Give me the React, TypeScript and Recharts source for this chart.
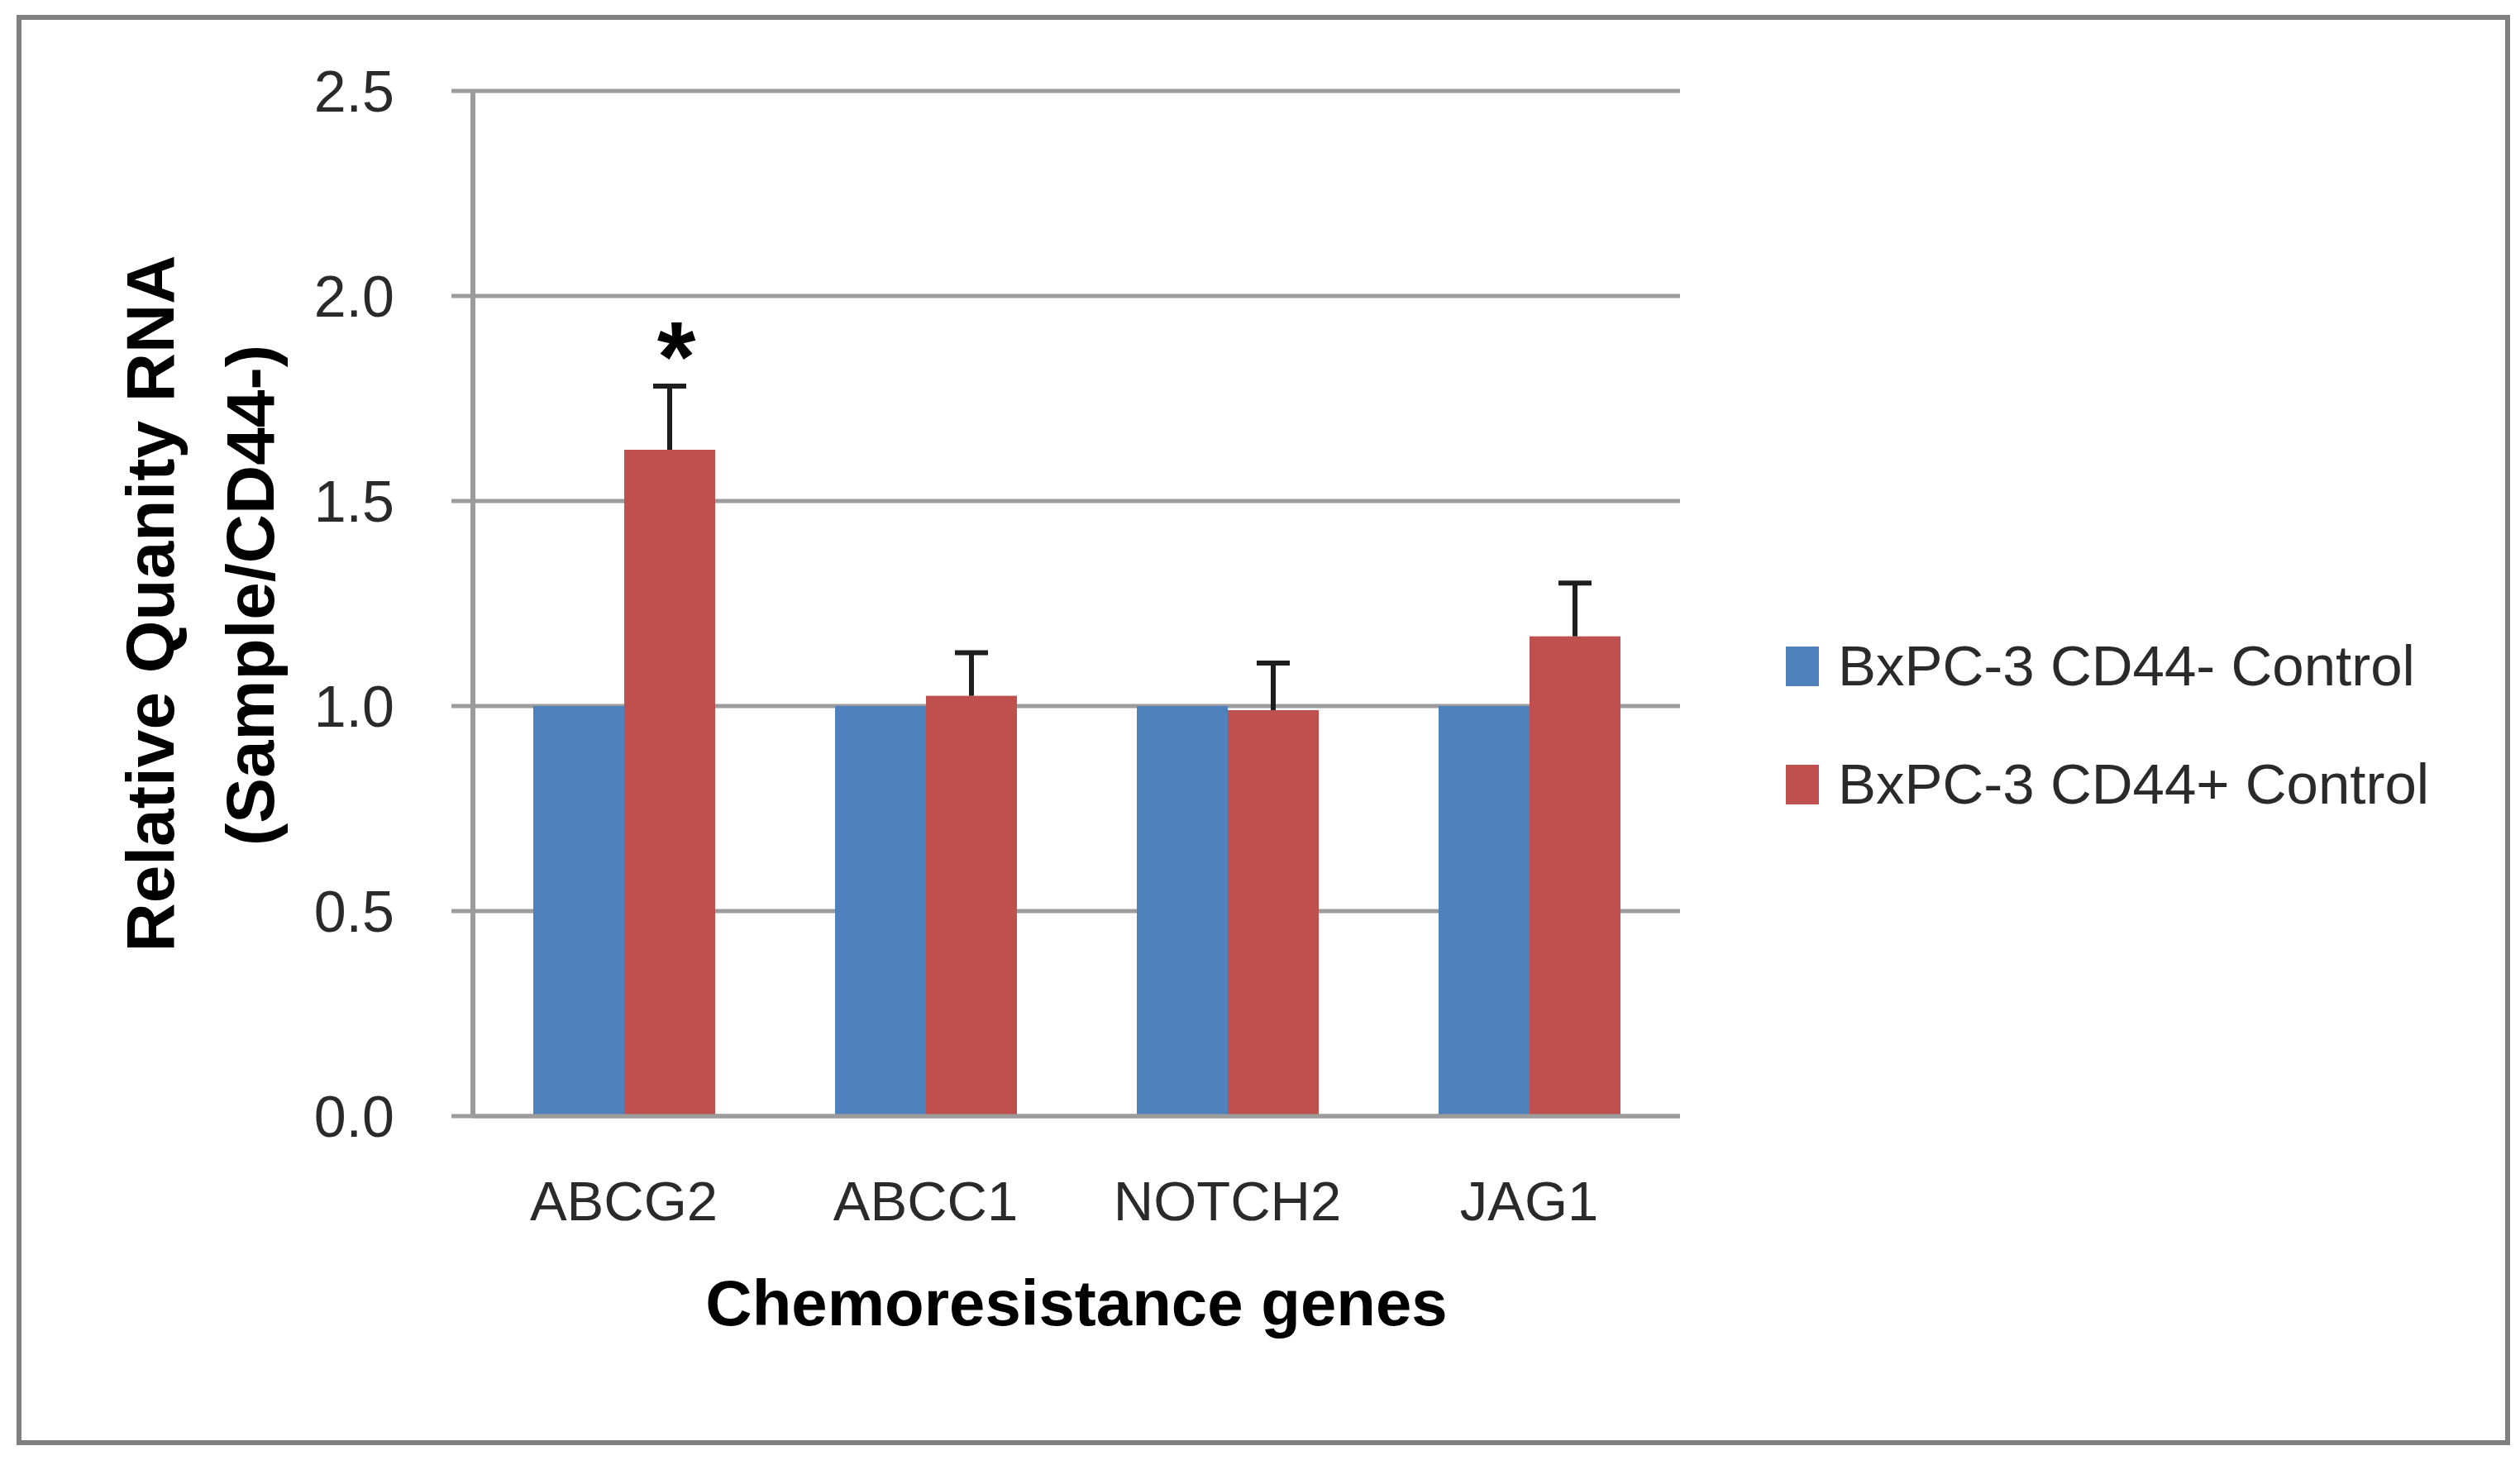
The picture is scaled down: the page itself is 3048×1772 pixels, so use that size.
import { BarChart, Bar, XAxis, YAxis, CartesianGrid, Legend, Label } from 'recharts';

const genes = ['ABCG2', 'ABCC1', 'NOTCH2', 'JAG1'];
const cd44Neg = [1.0, 1.0, 1.0, 1.0];
const cd44Pos = [1.625, 1.025, 0.99, 1.17];
const cd44PosErr = [0.155, 0.105, 0.115, 0.13];
const significance = ['*', '', '', ''];
const yTicks = [0, 0.5, 1.0, 1.5, 2.0, 2.5];

const data = genes.map((g, i) => ({
    gene: g,
    neg: cd44Neg[i],
    pos: cd44Pos[i],
    err: cd44PosErr[i],
    sig: significance[i],
}));

const FONT = '"Liberation Sans", Arial, sans-serif';
const GRID = '#9c9c9c';
const BLUE = '#4F81BD';
const RED = '#C0504D';

// red bar with its upper error bar (and the asterisk) drawn from the bar's own scale
function PosBar(props: any) {
    const { x, y, width, height, fill, payload } = props;
    const perUnit = payload.pos ? height / payload.pos : 0;
    const top = y - payload.err * perUnit;
    const cx = x + width / 2;
    return (
        <g>
            <rect x={x} y={y} width={width} height={height} fill={fill} />
            <line x1={cx} x2={cx} y1={y} y2={top} stroke="#1e1e1e" strokeWidth={6} />
            <line x1={cx - 20} x2={cx + 20} y1={top} y2={top} stroke="#1e1e1e" strokeWidth={6} />
            {payload.sig ? (
                <text x={cx + 8} y={top + 6} textAnchor="middle" fontFamily={FONT} fontWeight="bold" fontSize={120} fill="#000">
                    {payload.sig}
                </text>
            ) : null}
        </g>
    );
}

function YTitle(props: any) {
    const { viewBox } = props;
    const cy = viewBox.y + viewBox.height / 2;
    const x1 = viewBox.x + 29;
    const x2 = viewBox.x + 150;
    return (
        <g fontFamily={FONT} fontWeight="bold" fontSize={82} fill="#000">
            <text x={x1} y={cy} textAnchor="middle" dominantBaseline="central" transform={`rotate(-90 ${x1} ${cy})`}>
                Relative Quanity RNA
            </text>
            <text x={x2} y={cy - 10} textAnchor="middle" dominantBaseline="central" transform={`rotate(-90 ${x2} ${cy - 10})`}>
                (Sample/CD44-)
            </text>
        </g>
    );
}

function XTitle(props: any) {
    const { viewBox } = props;
    return (
        <text x={viewBox.x + viewBox.width / 2} y={viewBox.y + 253} textAnchor="middle" fontFamily={FONT} fontWeight="bold" fontSize={78} fill="#000">
            Chemoresistance genes
        </text>
    );
}

function LegendBox() {
    const items = [
        { label: 'BxPC-3 CD44- Control', color: BLUE },
        { label: 'BxPC-3 CD44+ Control', color: RED },
    ];
    return (
        <div style={{ fontFamily: FONT, fontSize: 69, color: '#2a2a2a' }}>
            {items.map((it) => (
                <div key={it.label} style={{ display: 'flex', alignItems: 'center', height: 143, whiteSpace: 'nowrap' }}>
                    <div style={{ width: 40, height: 48, background: it.color, marginRight: 23 }} />
                    <span>{it.label}</span>
                </div>
            ))}
        </div>
    );
}

export default function App() {
    return (
        <div style={{ position: 'absolute', left: 0, top: 0, width: 3048, height: 1772, background: '#fff' }}>
            <div
                style={{
                    position: 'absolute',
                    left: 20,
                    top: 18,
                    width: 3016,
                    height: 1730,
                    boxSizing: 'border-box',
                    border: '6px solid #808080',
                }}
            />
            <div style={{ position: 'absolute', left: 0, top: 0 }}>
                <BarChart
                    width={3048}
                    height={1772}
                    data={data}
                    margin={{ top: 110, right: 1016, bottom: 122, left: 152 }}
                    barCategoryGap="20%"
                    barGap={0}
                >
                    <CartesianGrid vertical={false} stroke={GRID} strokeWidth={5} />
                    <XAxis
                        dataKey="gene"
                        height={300}
                        tickLine={false}
                        tickSize={0}
                        tickMargin={78}
                        axisLine={{ stroke: GRID, strokeWidth: 5 }}
                        tick={{ fontFamily: FONT, fontSize: 67, fill: '#2a2a2a' }}
                    >
                        <Label content={XTitle} />
                    </XAxis>
                    <YAxis
                        width={420}
                        domain={[0, 2.5]}
                        ticks={yTicks}
                        interval={0}
                        tickFormatter={(v: number) => v.toFixed(1)}
                        tickSize={26}
                        tickMargin={69}
                        tickLine={{ stroke: GRID, strokeWidth: 5 }}
                        axisLine={{ stroke: GRID, strokeWidth: 6 }}
                        tick={{ fontFamily: FONT, fontSize: 70, fill: '#2a2a2a' }}
                    >
                        <Label content={YTitle} />
                    </YAxis>
                    <Legend
                        layout="vertical"
                        align="center"
                        verticalAlign="middle"
                        content={<LegendBox />}
                        wrapperStyle={{ left: 2160, top: 734, width: 820 }}
                    />
                    <Bar dataKey="neg" name="BxPC-3 CD44- Control" fill={BLUE} isAnimationActive={false} />
                    <Bar dataKey="pos" name="BxPC-3 CD44+ Control" fill={RED} shape={PosBar} isAnimationActive={false} />
                </BarChart>
            </div>
        </div>
    );
}
